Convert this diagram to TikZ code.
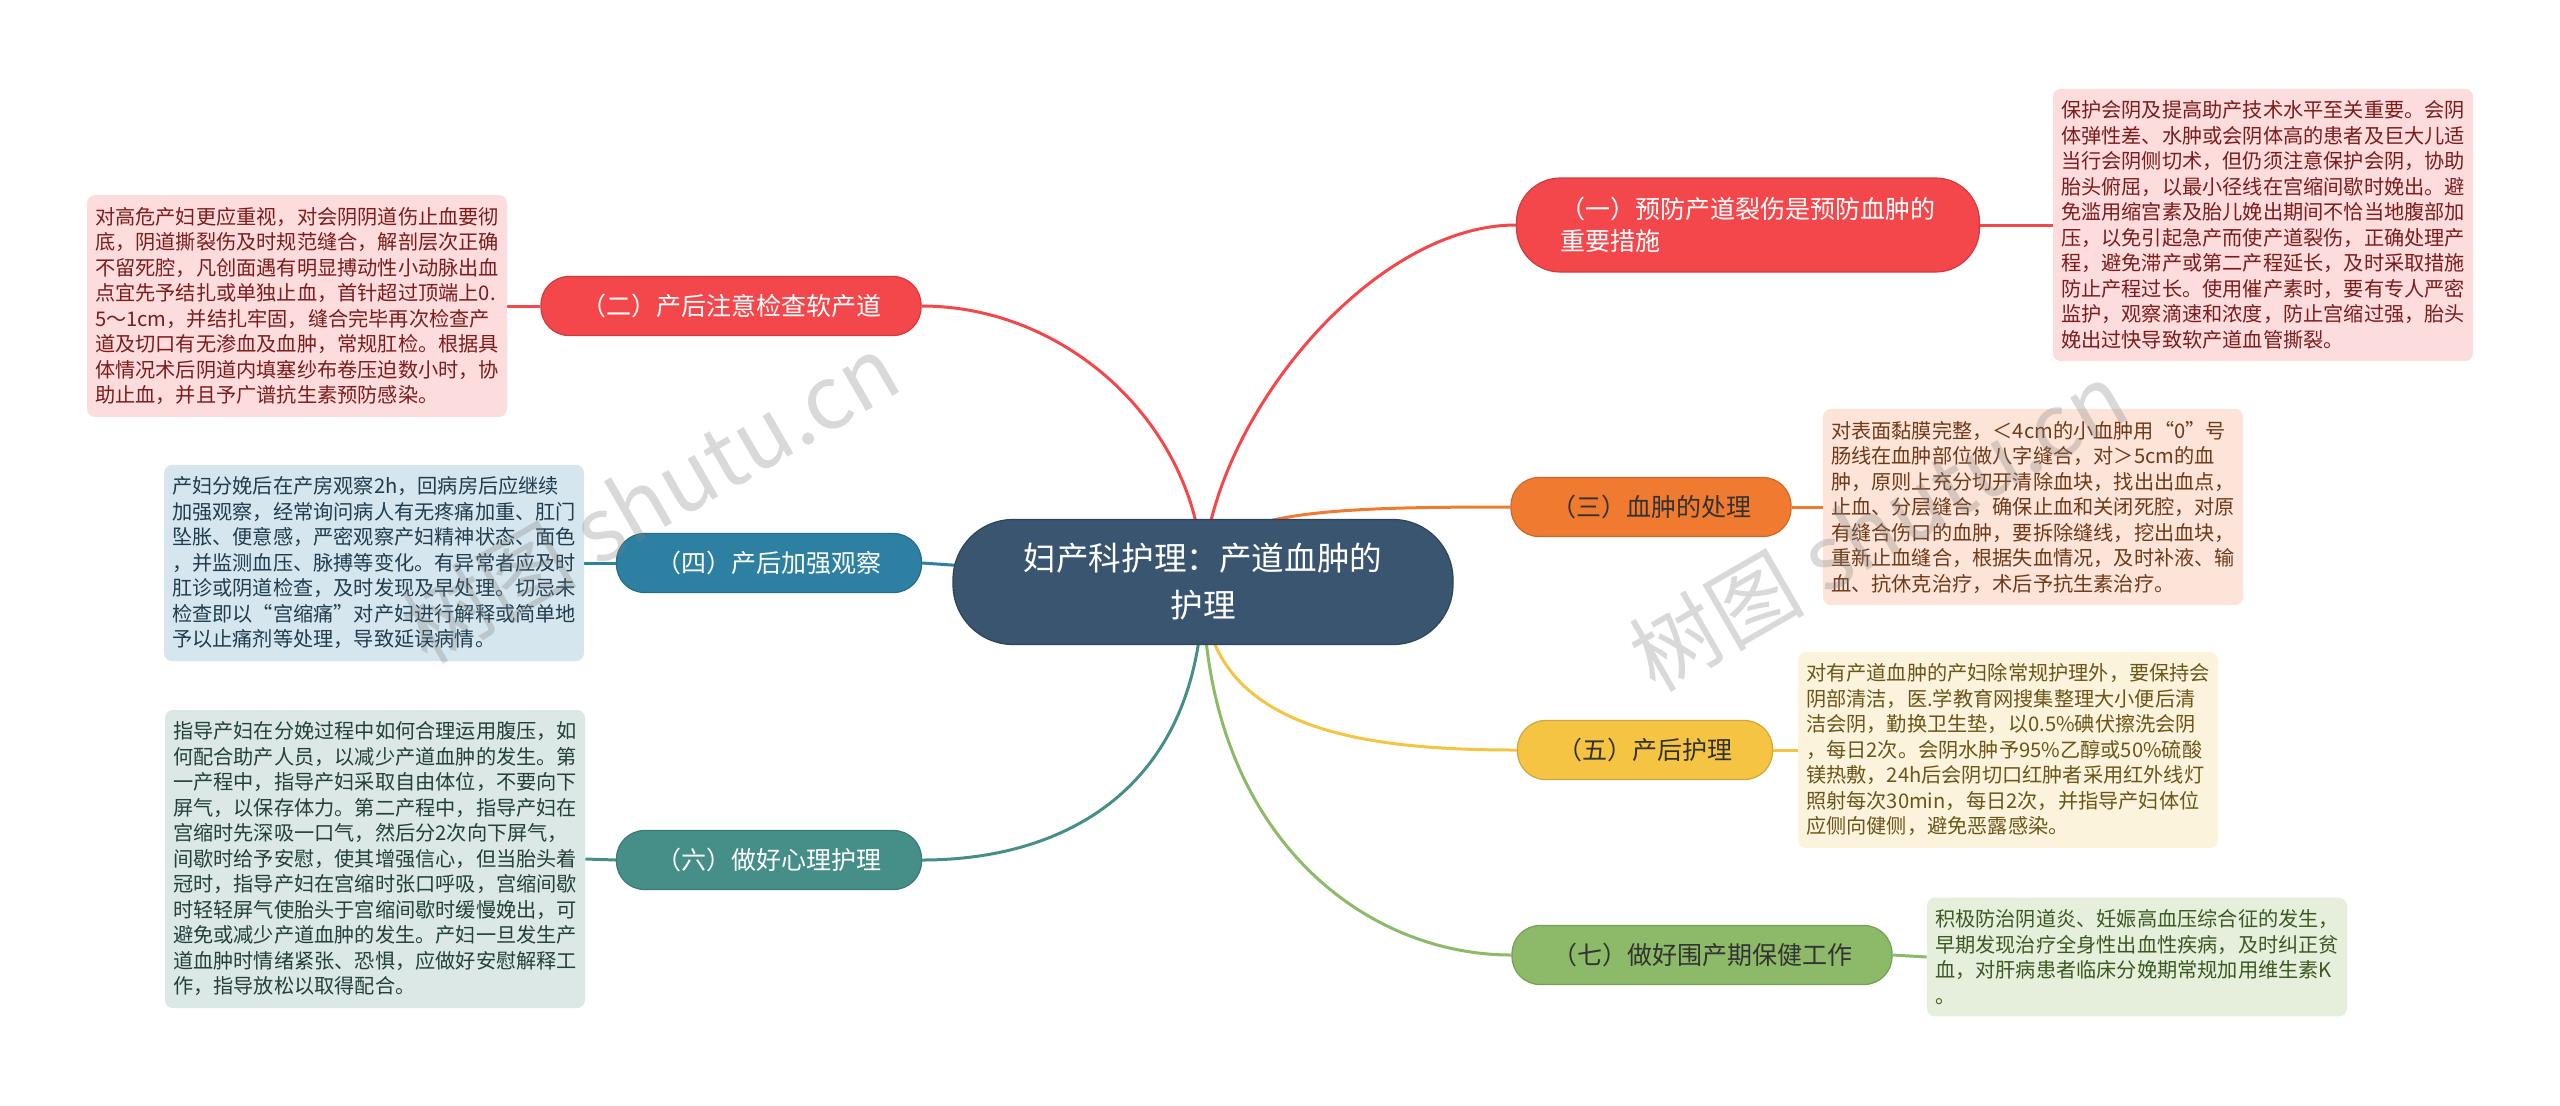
\documentclass[tikz,border=0pt]{standalone}
\usepackage{fontspec}
\setmainfont{Noto Sans CJK SC}
\usetikzlibrary{positioning}
\definecolor{rootblue}{HTML}{3A5570}
\definecolor{redb}{HTML}{F4474B}
\definecolor{orangeb}{HTML}{F07A2F}
\definecolor{blueb}{HTML}{2E80A3}
\definecolor{yellowb}{HTML}{F5C443}
\definecolor{tealb}{HTML}{468F88}
\definecolor{greenb}{HTML}{8CBA68}
\definecolor{redn}{HTML}{FCDCDC}
\definecolor{orangen}{HTML}{FCE5D8}
\definecolor{bluen}{HTML}{D6E6EE}
\definecolor{yellown}{HTML}{FCF3DC}
\definecolor{tealn}{HTML}{DCE8E5}
\definecolor{greenn}{HTML}{E6EEDC}
\definecolor{redt}{HTML}{7B1D1D}
\definecolor{oranget}{HTML}{6E3A1A}
\definecolor{bluet}{HTML}{1F3D4F}
\definecolor{yellowt}{HTML}{6B561A}
\definecolor{tealt}{HTML}{23403C}
\definecolor{greent}{HTML}{3B5A22}
\definecolor{darktext}{HTML}{333333}
\pgfdeclarelayer{bg}
\pgfsetlayers{bg,main}
\tikzset{
  mainbox/.style={rounded corners=30pt,draw=rootblue!80!black,line width=0.6pt,fill=rootblue,text=white,
                  minimum width=250pt,minimum height=62.5pt,align=center,font=\fontsize{16.3}{23.5}\selectfont},
  topic/.style={rounded corners=14pt,line width=0.6pt,minimum height=29.5pt,inner xsep=20pt,inner ysep=0pt,
                align=left,font=\fontsize{12.5}{16}\selectfont},
  % detail texts: fixed width, lines broken by hand
  note/.style={rounded corners=4pt,inner xsep=4pt,inner ysep=6pt,text width=202pt,align=left,
               font=\fontsize{10.1}{12.75}\selectfont},
  link/.style={line width=1.5pt},
  stamp/.style={font=\fontsize{44}{44}\selectfont,text=gray,opacity=0.3,rotate=30},
}
\begin{document}
\begin{tikzpicture}[x=0.5pt,y=-0.5pt]
  \useasboundingbox (0,0) rectangle (2560,1105);
  % centre
  \node[mainbox] (root) at (1203,582) {妇产科护理：产道血肿的\\护理};
  % main topics
  \node[topic,fill=redb,draw=redb!85!black,text=white,minimum width=231.5pt,minimum height=47pt,rounded corners=22pt] (t1) at (1748,225)
    {（一）预防产道裂伤是预防血肿的\\重要措施};
  \node[topic,fill=redb,draw=redb!85!black,text=white,minimum width=186.5pt] (t2) at (731,306) {（二）产后注意检查软产道};
  \node[topic,fill=orangeb,draw=orangeb!85!black,text=darktext,minimum width=133.5pt] (t3) at (1651,507) {（三）血肿的处理};
  \node[topic,fill=blueb,draw=blueb!85!black,text=white,minimum width=146pt] (t4) at (769,563) {（四）产后加强观察};
  \node[topic,fill=yellowb,draw=yellowb!85!black,text=darktext,minimum width=126.5pt] (t5) at (1645,750) {（五）产后护理};
  \node[topic,fill=tealb,draw=tealb!85!black,text=white,minimum width=145.5pt] (t6) at (769,860) {（六）做好心理护理};
  \node[topic,fill=greenb,draw=greenb!85!black,text=darktext,minimum width=183.5pt] (t7) at (1702,955) {（七）做好围产期保健工作};
  % details
  \node[note,fill=redn,text=redt] (n1) at (2263,225) {保护会阴及提高助产技术水平至关重要。会阴\\
    体弹性差、水肿或会阴体高的患者及巨大儿适\\
    当行会阴侧切术，但仍须注意保护会阴，协助\\
    胎头俯屈，以最小径线在宫缩间歇时娩出。避\\
    免滥用缩宫素及胎儿娩出期间不恰当地腹部加\\
    压，以免引起急产而使产道裂伤，正确处理产\\
    程，避免滞产或第二产程延长，及时采取措施\\
    防止产程过长。使用催产素时，要有专人严密\\
    监护，观察滴速和浓度，防止宫缩过强，胎头\\
    娩出过快导致软产道血管撕裂。};
  \node[note,fill=redn,text=redt] (n2) at (297,306) {对高危产妇更应重视，对会阴阴道伤止血要彻\\
    底，阴道撕裂伤及时规范缝合，解剖层次正确\\
    不留死腔，凡创面遇有明显搏动性小动脉出血\\
    点宜先予结扎或单独止血，首针超过顶端上0.\\
    5～1cm，并结扎牢固，缝合完毕再次检查产\\
    道及切口有无渗血及血肿，常规肛检。根据具\\
    体情况术后阴道内填塞纱布卷压迫数小时，协\\
    助止血，并且予广谱抗生素预防感染。};
  \node[note,fill=orangen,text=oranget] (n3) at (2033,507) {对表面黏膜完整，＜4cm的小血肿用“0”号\\
    肠线在血肿部位做八字缝合，对＞5cm的血\\
    肿，原则上充分切开清除血块，找出出血点，\\
    止血、分层缝合，确保止血和关闭死腔，对原\\
    有缝合伤口的血肿，要拆除缝线，挖出血块，\\
    重新止血缝合，根据失血情况，及时补液、输\\
    血、抗休克治疗，术后予抗生素治疗。};
  \node[note,fill=bluen,text=bluet] (n4) at (374,563) {产妇分娩后在产房观察2h，回病房后应继续\\
    加强观察，经常询问病人有无疼痛加重、肛门\\
    坠胀、便意感，严密观察产妇精神状态、面色\\
    ，并监测血压、脉搏等变化。有异常者应及时\\
    肛诊或阴道检查，及时发现及早处理。切忌未\\
    检查即以“宫缩痛”对产妇进行解释或简单地\\
    予以止痛剂等处理，导致延误病情。};
  \node[note,fill=yellown,text=yellowt] (n5) at (2008,750) {对有产道血肿的产妇除常规护理外，要保持会\\
    阴部清洁，医.学教育网搜集整理大小便后清\\
    洁会阴，勤换卫生垫，以0.5\%碘伏擦洗会阴\\
    ，每日2次。会阴水肿予95\%乙醇或50\%硫酸\\
    镁热敷，24h后会阴切口红肿者采用红外线灯\\
    照射每次30min，每日2次，并指导产妇体位\\
    应侧向健侧，避免恶露感染。};
  \node[note,fill=tealn,text=tealt] (n6) at (375,859) {指导产妇在分娩过程中如何合理运用腹压，如\\
    何配合助产人员，以减少产道血肿的发生。第\\
    一产程中，指导产妇采取自由体位，不要向下\\
    屏气，以保存体力。第二产程中，指导产妇在\\
    宫缩时先深吸一口气，然后分2次向下屏气，\\
    间歇时给予安慰，使其增强信心，但当胎头着\\
    冠时，指导产妇在宫缩时张口呼吸，宫缩间歇\\
    时轻轻屏气使胎头于宫缩间歇时缓慢娩出，可\\
    避免或减少产道血肿的发生。产妇一旦发生产\\
    道血肿时情绪紧张、恐惧，应做好安慰解释工\\
    作，指导放松以取得配合。};
  \node[note,fill=greenn,text=greent] (n7) at (2137,957) {积极防治阴道炎、妊娠高血压综合征的发生，\\
    早期发现治疗全身性出血性疾病，及时纠正贫\\
    血，对肝病患者临床分娩期常规加用维生素K\\
    。};
  % connectors
  \begin{pgfonlayer}{bg}
    \draw[link,redb] (root.center) .. controls +(0,-150) and +(-150,0) .. (t1.west);
    \draw[link,redb] (root.center) .. controls +(0,-150) and +(150,0) .. (t2.east);
    \draw[link,orangeb] (root.center) .. controls +(0,-70) and +(-200,0) .. (t3.west);
    \draw[link,blueb] (root.center) -- (t4.east);
    \draw[link,yellowb] (root.center) .. controls +(0,150) and +(-150,0) .. (t5.west);
    \draw[link,tealb] (root.center) .. controls +(0,200) and +(150,0) .. (t6.east);
    \draw[link,greenb] (root.center) .. controls +(0,250) and +(-150,0) .. (t7.west);
    \draw[link,redb] (t1.east) -- (n1.west);
    \draw[link,redb] (t2.west) -- (n2.east);
    \draw[link,orangeb] (t3.east) -- (n3.west);
    \draw[link,blueb] (t4.west) -- (n4.east);
    \draw[link,yellowb] (t5.east) -- (n5.west);
    \draw[link,tealb] (t6.west) -- (n6.east);
    \draw[link,greenb] (t7.east) -- (n7.west);
  \end{pgfonlayer}
  % watermarks
  \node[stamp] (wm1) at (650,498) {树图 shutu.cn};
  \node[stamp] (wm2) at (1878,526) {树图 shutu.cn};
\end{tikzpicture}
\end{document}
